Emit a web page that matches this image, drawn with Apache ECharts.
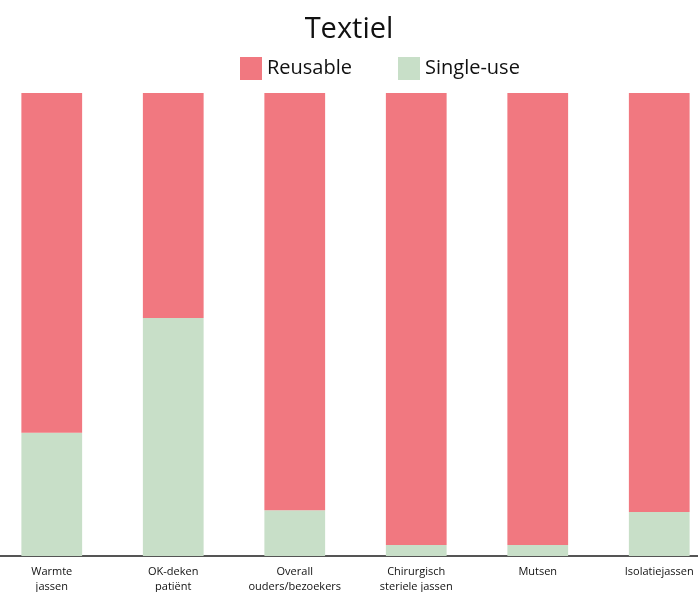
<!DOCTYPE html>
<html lang="nl">
<head>
  <meta charset="UTF-8">
  <title>Textiel</title>
  <script src="https://cdn.jsdelivr.net/npm/echarts@6/dist/echarts.min.js"></script>
  <style>
    html, body { margin: 0; padding: 0; background: #fff; }
    #chart { width: 698px; height: 592px; }
  </style>
</head>
<body>
  <div id="chart"></div>
  <script>
    // categorieën en aandelen (%)
    var categories = ['Warmte\njassen', 'OK-deken\npatiënt', 'Overall\nouders/bezoekers',
      'Chirurgisch\nsteriele jassen', 'Mutsen', 'Isolatiejassen'];
    var singleUse = [26.6, 51.4, 9.9, 2.4, 2.4, 9.5];
    var reusable = [73.4, 48.6, 90.1, 97.6, 97.6, 90.5];

    var chart = echarts.init(document.getElementById('chart'));
    chart.setOption({
      animation: false,
      textStyle: { fontFamily: 'Open Sans' },
      title: {
        text: 'Textiel',
        left: 'center',
        top: 10,
        textStyle: { fontSize: 29, fontWeight: 'normal', color: '#111' }
      },
      legend: {
        data: ['Reusable', 'Single-use'],
        top: 52,
        left: 235,
        itemWidth: 22,
        itemHeight: 23,
        itemGap: 46,
        icon: 'rect',
        textStyle: { fontSize: 20, color: '#111' }
      },
      grid: { left: -9, right: -22, top: 93, bottom: 36, outerBoundsMode: 'none' },
      xAxis: {
        type: 'category',
        data: categories,
        axisTick: { show: false },
        axisLine: { lineStyle: { color: '#555', width: 2 } },
        axisLabel: { fontSize: 11, color: '#111', margin: 8, lineHeight: 15, interval: 0 }
      },
      yAxis: {
        type: 'value',
        min: 0,
        max: 100,
        show: false
      },
      series: [
        {
          name: 'Single-use',
          type: 'bar',
          stack: 'tot',
          barWidth: '50%',
          itemStyle: { color: '#c8dfc8' },
          data: singleUse
        },
        {
          name: 'Reusable',
          type: 'bar',
          stack: 'tot',
          itemStyle: { color: '#f17880' },
          data: reusable
        }
      ]
    });
  </script>
</body>
</html>
